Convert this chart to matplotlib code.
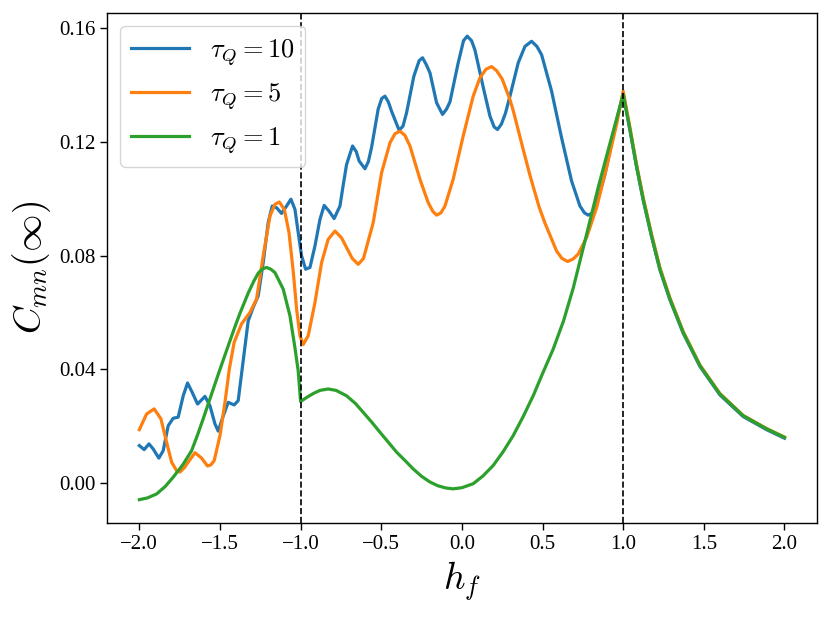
import matplotlib
matplotlib.use("Agg")
import matplotlib.pyplot as plt

# values
hf_tau10 = [-2.0, -1.970, -1.940, -1.914, -1.879, -1.852, -1.821, -1.790, -1.759, -1.728,
            -1.701, -1.672, -1.639, -1.593, -1.562, -1.531, -1.511, -1.486, -1.449, -1.412,
            -1.387, -1.366, -1.345, -1.325, -1.294, -1.263, -1.232, -1.201, -1.176, -1.149,
            -1.118, -1.087, -1.060, -1.035, -1.015, -0.994, -0.969, -0.942, -0.911, -0.880,
            -0.854, -0.825, -0.792, -0.756, -0.738, -0.715, -0.678, -0.655, -0.637, -0.601,
            -0.580, -0.560, -0.519, -0.497, -0.477, -0.456, -0.436, -0.389, -0.365, -0.343,
            -0.298, -0.265, -0.244, -0.220, -0.198, -0.157, -0.120, -0.095, -0.074, -0.023,
            0.010, 0.033, 0.060, 0.081, 0.132, 0.174, 0.200, 0.221, 0.245, 0.270,
            0.298, 0.349, 0.391, 0.432, 0.465, 0.494, 0.556, 0.618, 0.680, 0.732,
            0.760, 0.783, 0.805, 0.825, 0.887, 0.938, 1.0, 1.042, 1.083, 1.124,
            1.176, 1.228, 1.290, 1.372, 1.476, 1.600, 1.744, 1.889, 2.0]
c_tau10 = [0.0132, 0.0118, 0.0138, 0.0120, 0.0088, 0.0114, 0.0202, 0.0228, 0.0232, 0.0307,
           0.0352, 0.0319, 0.0278, 0.0305, 0.0272, 0.0208, 0.0183, 0.0226, 0.0284, 0.0275,
           0.0290, 0.0385, 0.0480, 0.0570, 0.0618, 0.0658, 0.0775, 0.0916, 0.0974, 0.0968,
           0.0948, 0.0974, 0.0998, 0.0962, 0.0881, 0.0799, 0.0752, 0.0758, 0.0834, 0.0927,
           0.0976, 0.0957, 0.0930, 0.0974, 0.1040, 0.1120, 0.1185, 0.1165, 0.1132, 0.1105,
           0.1130, 0.1180, 0.1315, 0.1352, 0.1360, 0.1340, 0.1307, 0.1240, 0.1255, 0.1302,
           0.1430, 0.1485, 0.1495, 0.1470, 0.1442, 0.1337, 0.1296, 0.1315, 0.1340, 0.1477,
           0.1555, 0.1571, 0.1555, 0.1522, 0.1392, 0.1290, 0.1252, 0.1243, 0.1262, 0.1300,
           0.1360, 0.1477, 0.1535, 0.1553, 0.1535, 0.1506, 0.1378, 0.1214, 0.1062, 0.0974,
           0.0950, 0.0942, 0.0948, 0.0962, 0.1085, 0.1226, 0.1368, 0.1240, 0.1111, 0.0995,
           0.0866, 0.0749, 0.0644, 0.0527, 0.0410, 0.0310, 0.0234, 0.0188, 0.0158]

hf_tau5 = [-2.0, -1.955, -1.908, -1.866, -1.831, -1.800, -1.769, -1.748, -1.720, -1.697,
           -1.655, -1.614, -1.577, -1.555, -1.536, -1.500, -1.469, -1.442, -1.412, -1.366,
           -1.314, -1.273, -1.232, -1.190, -1.159, -1.132, -1.101, -1.072, -1.045, -1.025,
           -1.004, -0.984, -0.953, -0.911, -0.870, -0.829, -0.787, -0.746, -0.715, -0.680,
           -0.643, -0.610, -0.581, -0.550, -0.498, -0.446, -0.415, -0.384, -0.353, -0.322,
           -0.260, -0.209, -0.180, -0.157, -0.130, -0.105, -0.054, 0.008, 0.070, 0.112,
           0.150, 0.184, 0.215, 0.250, 0.298, 0.318, 0.380, 0.422, 0.479, 0.515,
           0.587, 0.620, 0.655, 0.690, 0.721, 0.773, 0.835, 0.897, 0.959, 1.0,
           1.042, 1.083, 1.124, 1.176, 1.228, 1.290, 1.372, 1.476, 1.600, 1.744,
           1.889, 2.0]
c_tau5 = [0.0188, 0.0243, 0.0261, 0.0226, 0.0144, 0.0074, 0.0044, 0.0039, 0.0055, 0.0074,
          0.0107, 0.0088, 0.0060, 0.0065, 0.0079, 0.0167, 0.0284, 0.0401, 0.0495, 0.0560,
          0.0600, 0.0647, 0.0799, 0.0939, 0.0980, 0.0988, 0.0962, 0.0881, 0.0740, 0.0612,
          0.0518, 0.0487, 0.0518, 0.0635, 0.0775, 0.0857, 0.0886, 0.0862, 0.0828, 0.0790,
          0.0769, 0.0790, 0.0851, 0.0915, 0.1091, 0.1196, 0.1228, 0.1237, 0.1222, 0.1185,
          0.1068, 0.0986, 0.0955, 0.0942, 0.0950, 0.0974, 0.1068, 0.1220, 0.1360, 0.1425,
          0.1455, 0.1464, 0.1450, 0.1420, 0.1348, 0.1310, 0.1173, 0.1082, 0.0970, 0.0914,
          0.0816, 0.0790, 0.0779, 0.0788, 0.0805, 0.0863, 0.0968, 0.1109, 0.1261, 0.1378,
          0.1250, 0.1120, 0.1004, 0.0875, 0.0757, 0.0651, 0.0533, 0.0415, 0.0315, 0.0238,
          0.0192, 0.0162]

hf_tau1 = [-2.0, -1.950, -1.893, -1.840, -1.790, -1.730, -1.676, -1.640, -1.604, -1.542,
           -1.500, -1.440, -1.407, -1.376, -1.325, -1.290, -1.263, -1.237, -1.211,
           -1.185, -1.159, -1.108, -1.066, -1.035, -1.015, -1.0, -0.960, -0.922, -0.880,
           -0.829, -0.780, -0.715, -0.660, -0.612, -0.560, -0.508, -0.455, -0.405, -0.350,
           -0.302, -0.250, -0.198, -0.150, -0.100, -0.054, 0.0, 0.070, 0.130, 0.194,
           0.255, 0.318, 0.380, 0.442, 0.500, 0.566, 0.630, 0.690, 0.763, 0.845,
           0.928, 1.0, 1.042, 1.083, 1.124, 1.176, 1.228, 1.290, 1.372, 1.476,
           1.600, 1.744, 1.889, 2.0]
c_tau1 = [-0.0058, -0.0052, -0.0038, -0.0012, 0.0021, 0.0065, 0.0114, 0.0168, 0.0226, 0.0330,
          0.0400, 0.0497, 0.0550, 0.0597, 0.0668, 0.0710, 0.0738, 0.0753, 0.0758,
          0.0752, 0.0740, 0.0682, 0.0588, 0.0475, 0.0395, 0.0287, 0.0302, 0.0315, 0.0326,
          0.0331, 0.0326, 0.0307, 0.0280, 0.0249, 0.0215, 0.0179, 0.0143, 0.0109, 0.0078,
          0.0050, 0.0024, 0.0004, -0.0009, -0.0017, -0.0020, -0.0016, -0.0002, 0.0025, 0.0062,
          0.0110, 0.0167, 0.0234, 0.0307, 0.0385, 0.0471, 0.0570, 0.0685, 0.0851, 0.1039,
          0.1215, 0.1366, 0.1243, 0.1114, 0.0998, 0.0869, 0.0752, 0.0647, 0.0530, 0.0413,
          0.0313, 0.0237, 0.0191, 0.0161]

labels = [r"$\tau_Q = 10$", r"$\tau_Q = 5$", r"$\tau_Q = 1$"]
critical_fields = [-1.0, 1.0]

plt.rcParams["font.family"] = "Liberation Serif"
plt.rcParams["mathtext.fontset"] = "cm"

fig = plt.figure(figsize=(8.3, 6.18), dpi=100)
ax = fig.add_axes([0.129, 0.154, 0.855, 0.825])

ax.plot(hf_tau10, c_tau10, color="#1f77b4", lw=2.3, label=labels[0])
ax.plot(hf_tau5, c_tau5, color="#ff7f0e", lw=2.3, label=labels[1])
ax.plot(hf_tau1, c_tau1, color="#2ca02c", lw=2.3, label=labels[2])

for h in critical_fields:
    ax.axvline(h, color="black", ls="--", lw=1.2)

ax.set_xticks([-2.0, -1.5, -1.0, -0.5, 0.0, 0.5, 1.0, 1.5, 2.0])
ax.set_yticks([0.00, 0.04, 0.08, 0.12, 0.16])
ax.yaxis.set_major_formatter(matplotlib.ticker.FormatStrFormatter("%.2f"))
ax.tick_params(labelsize=15, length=5, width=1)
for s in ax.spines.values():
    s.set_linewidth(1)

ax.set_xlabel(r"$h_f$", fontsize=27)
ax.set_ylabel(r"$C_{mn}(\infty)$", fontsize=27)
ax.legend(loc="upper left", fontsize=19, handlelength=2.2)

fig.savefig("out.png", dpi=100)
